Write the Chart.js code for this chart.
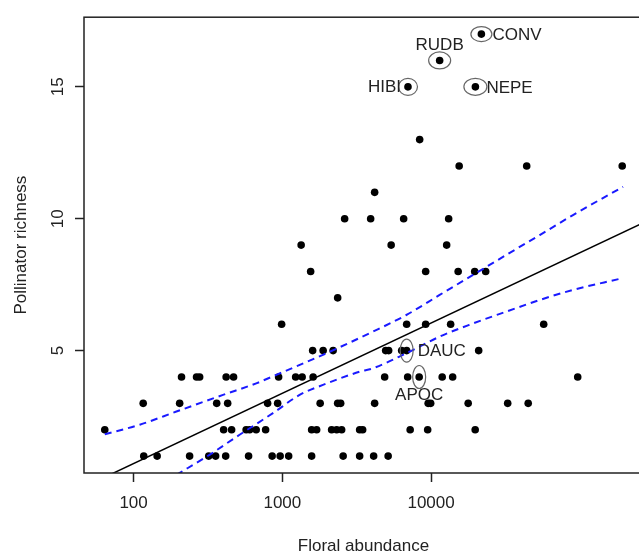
<!DOCTYPE html>
<html>
<head>
<meta charset="utf-8">
<script src="https://cdn.jsdelivr.net/npm/chart.js@4.4.1/dist/chart.umd.min.js"></script>
<style>
  html, body { margin: 0; padding: 0; background: #fff; overflow: hidden; }
  #wrap { width: 639px; height: 554px; overflow: hidden; }
</style>
</head>
<body>
<div id="wrap"><canvas id="richnessChart" width="660" height="554"></canvas></div>
<script>
// plant species: floral abundance vs number of pollinator species
const abundance = [
  117, 144, 238, 320, 356, 416, 593, 854, 967, 1103, 1574, 2564, 3310, 4111, 5145,
  64, 403, 456, 571, 603, 667, 772, 1574, 1701, 2145, 2319, 2505, 3310, 3467, 7235, 9487, 19800,
  116, 204, 362, 429, 796, 930, 1796, 2355, 2467, 4175, 9561, 9938, 17760, 32740, 44980,
  210, 265, 278, 419, 470, 944, 1229, 1359, 1611, 4875, 6960, 8318, 11880, 13970, 96810,
  1599, 1881, 2195, 4951, 5186, 6343, 6853, 20900,
  989, 6853, 9197, 13540, 57180,
  2355,
  1550, 9197, 15210, 19650, 23290,
  1338, 5391, 12730,
  2624, 3925, 6542, 13130,
  4175,
  15450, 43950, 192800,
  8381,
  6994, 19860,
  11420,
  21790
];
const richness = [
  1, 1, 1, 1, 1, 1, 1, 1, 1, 1, 1, 1, 1, 1, 1,
  2, 2, 2, 2, 2, 2, 2, 2, 2, 2, 2, 2, 2, 2, 2, 2, 2,
  3, 3, 3, 3, 3, 3, 3, 3, 3, 3, 3, 3, 3, 3, 3,
  4, 4, 4, 4, 4, 4, 4, 4, 4, 4, 4, 4, 4, 4, 4,
  5, 5, 5, 5, 5, 5, 5, 5,
  6, 6, 6, 6, 6,
  7,
  8, 8, 8, 8, 8,
  9, 9, 9,
  10, 10, 10, 10,
  11,
  12, 12, 12,
  13,
  15, 15,
  16,
  17
];

const labelNames = ["CONV", "RUDB", "HIBI", "NEPE", "DAUC", "APOC"];
const labelAbundance = [21790, 11420, 6994, 19860, 6853, 8318];
const labelRichness = [17, 16, 15, 15, 5, 4];

// fitted line and confidence band
const fitAbundance = [46.4, 266000];
const fitRichness = [-0.17, 9.84];
const upperAbundance = [64, 110, 194, 399, 668, 911, 1875, 4066, 6817, 11420, 19150, 32080, 53760, 89990, 195400];
const upperRichness = [1.83, 2.19, 2.69, 3.32, 3.76, 4.08, 4.84, 5.72, 6.35, 7.11, 7.87, 8.63, 9.38, 10.14, 11.21];
const lowerAbundance = [194, 324, 516, 865, 1306, 1875, 3313, 4066, 6817, 11420, 19150, 32080, 53760, 89990, 185400];
const lowerRichness = [0.29, 1.05, 1.81, 2.63, 3.32, 3.70, 4.20, 4.33, 4.90, 5.53, 6.03, 6.48, 6.92, 7.30, 7.72];

const xTicks = [100, 1000, 10000];
const yTicks = [5, 10, 15];

const toXY = (xs, ys) => xs.map((x, i) => ({ x: x, y: ys[i] }));

const FONT = "'Liberation Sans', Arial, Helvetica, sans-serif";
const INK = "#222";

Chart.defaults.font.family = FONT;
Chart.defaults.color = INK;

/* =========================
   LABELS + ELLIPSES
========================= */

const labelStyle = {
  CONV: { pos: "right", rx: 10.5, ry: 7.5 },
  RUDB: { pos: "above", rx: 11, ry: 8.5 },
  HIBI: { pos: "left", rx: 9.5, ry: 8.5 },
  NEPE: { pos: "right", rx: 11.5, ry: 8.5 },
  DAUC: { pos: "right", rx: 6.5, ry: 11.5 },
  APOC: { pos: "below", rx: 6.5, ry: 11.5 }
};

const labelPlugin = {
  id: "speciesLabels",
  afterDatasetsDraw(chart) {
    const { ctx } = chart;
    const xs = chart.scales.x;
    const ys = chart.scales.y;
    ctx.save();
    ctx.font = "17px " + FONT;
    ctx.textBaseline = "middle";
    labelNames.forEach((name, i) => {
      const px = xs.getPixelForValue(labelAbundance[i]);
      const py = ys.getPixelForValue(labelRichness[i]);
      const s = labelStyle[name];

      ctx.beginPath();
      ctx.ellipse(px, py, s.rx, s.ry, 0, 0, Math.PI * 2);
      ctx.strokeStyle = "#666";
      ctx.lineWidth = 1.2;
      ctx.stroke();

      ctx.fillStyle = INK;
      if (s.pos === "right") {
        ctx.textAlign = "left";
        ctx.fillText(name, px + 11, py + 1);
      } else if (s.pos === "left") {
        ctx.textAlign = "right";
        ctx.fillText(name, px - 7, py);
      } else if (s.pos === "above") {
        ctx.textAlign = "center";
        ctx.fillText(name, px, py - 15);
      } else {
        ctx.textAlign = "center";
        ctx.fillText(name, px, py + 18);
      }
    });
    ctx.restore();
  }
};

// box round the plot region
const framePlugin = {
  id: "frame",
  afterDraw(chart) {
    const { ctx, chartArea: a } = chart;
    ctx.save();
    ctx.strokeStyle = INK;
    ctx.lineWidth = 1.5;
    ctx.strokeRect(a.left, a.top, a.right - a.left, a.bottom - a.top);
    ctx.restore();
  }
};

/* =========================
   CHART
========================= */

const ctxEl = document.getElementById("richnessChart");

new Chart(ctxEl, {
  type: "scatter",
  data: {
    datasets: [
      {
        label: "fit",
        data: toXY(fitAbundance, fitRichness),
        showLine: true,
        borderColor: "#000",
        borderWidth: 1.5,
        pointRadius: 0
      },
      {
        label: "upper",
        data: toXY(upperAbundance, upperRichness),
        showLine: true,
        borderColor: "#1a1aff",
        borderWidth: 2,
        borderDash: [7, 5],
        cubicInterpolationMode: "monotone",
        pointRadius: 0
      },
      {
        label: "lower",
        data: toXY(lowerAbundance, lowerRichness),
        showLine: true,
        borderColor: "#1a1aff",
        borderWidth: 2,
        borderDash: [7, 5],
        cubicInterpolationMode: "monotone",
        pointRadius: 0
      },
      {
        label: "species",
        data: toXY(abundance, richness),
        pointRadius: 3.8,
        pointBackgroundColor: "#000",
        pointBorderWidth: 0
      }
    ]
  },
  options: {
    responsive: false,
    devicePixelRatio: 1,
    animation: false,
    layout: { padding: { left: 0, top: 14, right: 17, bottom: 0 } },
    plugins: {
      legend: { display: false },
      tooltip: { enabled: false }
    },
    scales: {
      x: {
        type: "logarithmic",
        position: "bottom",
        min: 46.4,
        max: 266000,
        afterBuildTicks: s => { s.ticks = xTicks.map(v => ({ value: v })); },
        afterFit: s => { s.height = 81; },
        ticks: {
          autoSkip: false,
          maxRotation: 0,
          padding: 11,
          color: INK,
          font: { size: 17 },
          callback: v => String(v)
        },
        grid: {
          drawOnChartArea: false,
          drawTicks: true,
          tickLength: 9,
          tickColor: INK,
          tickWidth: 1.5
        },
        border: { display: false },
        title: {
          display: true,
          text: "Floral abundance",
          color: INK,
          font: { size: 17 },
          padding: { top: 0, bottom: -3 }
        }
      },
      y: {
        type: "linear",
        position: "left",
        min: 0.36,
        max: 17.64,
        afterBuildTicks: s => { s.ticks = yTicks.map(v => ({ value: v })); },
        afterFit: s => { s.width = 84; },
        ticks: {
          minRotation: 90,
          maxRotation: 90,
          crossAlign: "center",
          padding: 7,
          color: INK,
          font: { size: 17 },
          callback: v => String(v)
        },
        grid: {
          drawOnChartArea: false,
          drawTicks: true,
          tickLength: 9,
          tickColor: INK,
          tickWidth: 1.5
        },
        border: { display: false },
        title: {
          display: true,
          text: "Pollinator richness",
          color: INK,
          font: { size: 17 },
          padding: { top: 11, bottom: 0 }
        }
      }
    }
  },
  plugins: [labelPlugin, framePlugin]
});
</script>
</body>
</html>
